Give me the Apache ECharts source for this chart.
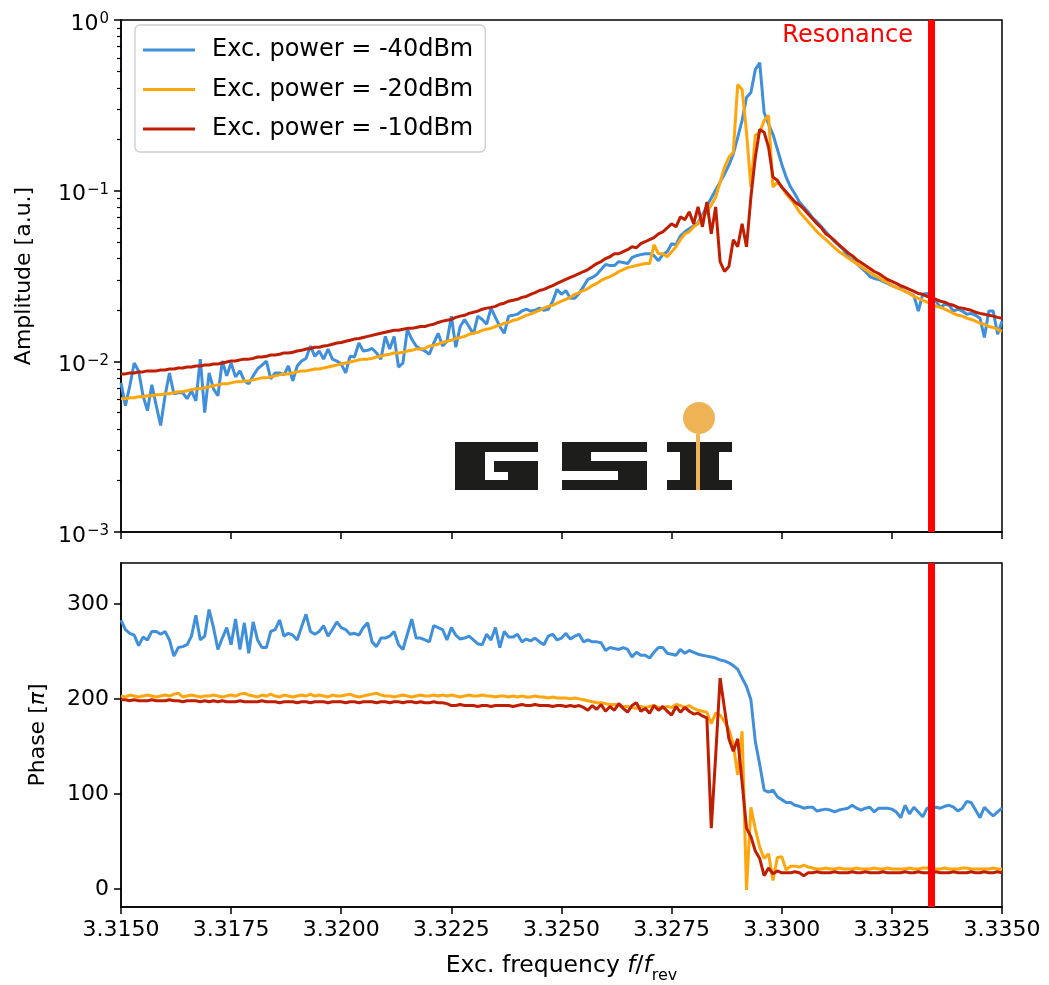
<!DOCTYPE html>
<html>
<head>
<meta charset="utf-8">
<script src="https://cdn.jsdelivr.net/npm/echarts@6/dist/echarts.min.js"></script>
<style>
html,body{margin:0;padding:0;background:#fff;}
#chart{width:1049px;height:985px;}
</style>
</head>
<body>
<div id="chart"></div>
<script>
// ---------------- data ----------------
const freqStart = 3.3150;
const freqStep = 0.0001;
const nPoints = 201;
const xTicks = [3.3150, 3.3175, 3.3200, 3.3225, 3.3250, 3.3275, 3.3300, 3.3325, 3.3350];
const ampTicks = [0.001, 0.01, 0.1, 1];
const ampMinorTicks = [0.002,0.003,0.004,0.005,0.006,0.007,0.008,0.009,
                       0.02,0.03,0.04,0.05,0.06,0.07,0.08,0.09,
                       0.2,0.3,0.4,0.5,0.6,0.7,0.8,0.9];
const phaseTicks = [0, 100, 200, 300];
const ampRange = [0.001, 1];
const phaseRange = [-19, 343];
const resonanceFreq = 3.3334;
const seriesNames = ['Exc. power = -40dBm', 'Exc. power = -20dBm', 'Exc. power = -10dBm'];

const ampBlue = [
0.00748,0.00550,0.00719,0.00977,0.00879,0.00629,0.00514,0.00728,0.00550,0.00421,
0.00629,0.00855,0.00646,0.00654,0.00654,0.00604,0.00672,0.00587,0.0103,0.00500,
0.00855,0.00690,0.00629,0.01004,0.00822,0.00977,0.00811,0.00879,0.00768,0.00738,
0.00822,0.00902,0.00951,0.01004,0.00789,0.00855,0.00855,0.00833,0.00939,0.00768,
0.00939,0.01004,0.0104,0.0123,0.0107,0.0115,0.0103,0.0118,0.0103,0.01004,
0.00964,0.00855,0.0107,0.0106,0.0128,0.0115,0.0116,0.0119,0.0112,0.0103,
0.0140,0.0118,0.0140,0.00926,0.00977,0.0154,0.0135,0.0123,0.0118,0.0115,
0.0110,0.0128,0.0146,0.0123,0.0131,0.0184,0.0121,0.0160,0.0176,0.0160,
0.0144,0.0184,0.0176,0.0165,0.0205,0.0181,0.0160,0.0146,0.0184,0.0186,
0.0189,0.0197,0.0202,0.0197,0.0199,0.0205,0.0199,0.0202,0.0225,0.0264,
0.0247,0.0260,0.0234,0.0234,0.0250,0.0275,0.0302,0.0310,0.0323,0.0345,
0.0369,0.0364,0.0364,0.0384,0.0379,0.0374,0.0405,0.0416,0.0422,0.0427,
0.0427,0.0416,0.0389,0.0422,0.0439,0.0489,0.0482,0.0544,0.0574,0.0598,
0.0623,0.0648,0.0722,0.0814,0.0906,0.1008,0.112,0.125,0.141,0.164,
0.205,0.258,0.352,0.376,0.512,0.562,0.287,0.245,0.214,0.175,
0.143,0.120,0.105,0.0956,0.0859,0.0803,0.0751,0.0693,0.0657,0.0614,
0.0574,0.0537,0.0502,0.0476,0.0451,0.0410,0.0394,0.0374,0.0354,0.0336,
0.0314,0.0306,0.0302,0.0294,0.0286,0.0278,0.0271,0.0267,0.0257,0.0250,
0.0243,0.0197,0.0247,0.0250,0.0237,0.0225,0.0207,0.0216,0.0213,0.0197,
0.0202,0.0197,0.0189,0.0191,0.0186,0.0179,0.0138,0.0197,0.0197,0.0144,0.0172];

const ampOrange = [
0.00604,0.00604,0.00612,0.00612,0.00620,0.00620,0.00629,0.00629,0.00637,0.00637,
0.00646,0.00646,0.00654,0.00663,0.00663,0.00672,0.00681,0.00690,0.00690,0.00700,
0.00709,0.00719,0.00728,0.00738,0.00738,0.00748,0.00758,0.00758,0.00768,0.00768,
0.00779,0.00789,0.00800,0.00800,0.00811,0.00822,0.00833,0.00844,0.00844,0.00855,
0.00867,0.00879,0.00879,0.00890,0.00902,0.00902,0.00914,0.00926,0.00939,0.00951,
0.00964,0.00977,0.00991,0.01004,0.0102,0.0103,0.0103,0.0104,0.0106,0.0107,
0.0109,0.0110,0.0112,0.0112,0.0113,0.0115,0.0116,0.0118,0.0118,0.0119,
0.0123,0.0124,0.0126,0.0129,0.0131,0.0133,0.0136,0.0138,0.0140,0.0144,
0.0146,0.0148,0.0152,0.0154,0.0156,0.0160,0.0163,0.0167,0.0169,0.0174,
0.0176,0.0181,0.0186,0.0189,0.0194,0.0199,0.0205,0.0210,0.0213,0.0219,
0.0225,0.0231,0.0237,0.0247,0.0253,0.0260,0.0267,0.0278,0.0286,0.0298,
0.0306,0.0314,0.0323,0.0336,0.0345,0.0354,0.0359,0.0364,0.0369,0.0374,
0.0374,0.0482,0.0427,0.0427,0.0410,0.0439,0.0469,0.0516,0.0559,0.0574,
0.0614,0.0640,0.0703,0.0751,0.0825,0.0918,0.112,0.137,0.157,0.168,
0.419,0.392,0.220,0.105,0.211,0.220,0.258,0.276,0.105,0.112,
0.105,0.0956,0.0894,0.0825,0.0751,0.0703,0.0657,0.0614,0.0574,0.0544,
0.0516,0.0489,0.0463,0.0439,0.0422,0.0405,0.0389,0.0374,0.0359,0.0345,
0.0331,0.0318,0.0310,0.0298,0.0290,0.0278,0.0271,0.0264,0.0257,0.0250,
0.0240,0.0234,0.0228,0.0222,0.0219,0.0210,0.0207,0.0202,0.0197,0.0191,
0.0186,0.0184,0.0179,0.0176,0.0172,0.0167,0.0165,0.0160,0.0158,0.0154,0.0150];

const ampRed = [
0.00844,0.00844,0.00855,0.00855,0.00867,0.00867,0.00879,0.00879,0.00879,0.00890,
0.00890,0.00902,0.00902,0.00914,0.00914,0.00926,0.00926,0.00939,0.00939,0.00951,
0.00951,0.00964,0.00964,0.00977,0.00991,0.01004,0.01004,0.0102,0.0103,0.0103,
0.0104,0.0106,0.0106,0.0107,0.0109,0.0109,0.0110,0.0112,0.0112,0.0113,
0.0115,0.0116,0.0118,0.0119,0.0121,0.0121,0.0123,0.0124,0.0126,0.0128,
0.0129,0.0131,0.0133,0.0135,0.0136,0.0138,0.0140,0.0142,0.0144,0.0146,
0.0148,0.0150,0.0152,0.0152,0.0154,0.0156,0.0156,0.0158,0.0160,0.0160,
0.0163,0.0165,0.0169,0.0172,0.0174,0.0176,0.0181,0.0184,0.0186,0.0191,
0.0194,0.0197,0.0202,0.0205,0.0207,0.0210,0.0216,0.0219,0.0225,0.0228,
0.0231,0.0237,0.0240,0.0247,0.0253,0.0260,0.0264,0.0271,0.0278,0.0286,
0.0294,0.0302,0.0310,0.0318,0.0327,0.0336,0.0345,0.0359,0.0374,0.0384,
0.0400,0.0410,0.0427,0.0427,0.0439,0.0451,0.0469,0.0463,0.0489,0.0502,
0.0516,0.0530,0.0559,0.0574,0.0606,0.0640,0.0614,0.0703,0.0675,0.0751,
0.0640,0.0803,0.0614,0.0859,0.0559,0.0803,0.0384,0.0336,0.0359,0.0516,
0.0469,0.0640,0.0469,0.0918,0.157,0.228,0.220,0.180,0.120,0.115,
0.105,0.0982,0.0918,0.0859,0.0825,0.0782,0.0731,0.0684,0.0640,0.0606,
0.0559,0.0537,0.0509,0.0482,0.0457,0.0433,0.0416,0.0394,0.0379,0.0364,
0.0350,0.0336,0.0327,0.0314,0.0302,0.0294,0.0286,0.0278,0.0271,0.0264,
0.0257,0.0250,0.0247,0.0240,0.0234,0.0231,0.0225,0.0222,0.0216,0.0213,
0.0207,0.0205,0.0202,0.0199,0.0194,0.0191,0.0189,0.0186,0.0184,0.0181,0.0179];

const phaseBlue = [
283,273,269,267,256,265,262,271,271,268,
271,262,245,254,255,257,266,288,262,266,
294,275,252,264,275,257,284,252,280,248,
281,262,254,254,271,273,283,266,269,267,
262,276,289,271,268,271,277,266,273,281,
275,273,268,269,267,275,280,260,255,264,
264,266,271,257,252,268,284,264,264,262,
260,277,275,273,262,275,267,263,264,266,
262,258,257,268,262,275,254,271,265,265,
268,260,263,261,264,260,257,266,268,262,
264,269,263,266,268,260,262,260,260,259,
251,254,253,252,254,252,244,249,246,246,
243,249,254,254,248,247,246,252,248,251,
249,247,246,245,244,243,241,240,238,235,
231,222,213,199,155,131,104,102,104,97,
94,91,91,88,87,85,86,86,82,83,
84,83,81,83,84,85,88,85,83,85,
86,81,85,85,85,84,81,75,88,79,
86,81,76,85,86,86,85,87,88,86,
82,85,92,91,83,75,86,81,77,81,85];

const phaseOrange = [
203,202,204,203,202,203,204,203,202,203,
204,203,205,206,202,203,204,203,202,203,
203,204,203,202,203,204,203,205,206,204,
203,202,204,203,205,203,202,204,203,202,
203,204,203,205,203,204,203,202,204,203,
203,204,205,203,202,203,204,205,206,204,
203,203,202,203,204,203,202,203,204,203,
203,204,203,204,203,204,203,202,203,204,
203,203,204,203,203,202,203,203,202,203,
202,203,202,202,203,202,202,201,202,201,
201,201,200,201,200,199,198,197,196,196,
195,194,194,193,192,192,191,190,192,191,
192,193,191,190,192,191,194,193,191,193,
190,188,187,186,174,185,183,176,168,152,
120,166,-1,86,63,44,32,37,9,33,
34,20,24,24,23,25,23,22,21,21,
22,21,21,22,21,21,21,22,21,21,
21,22,21,21,22,21,21,21,21,22,
21,21,22,22,21,21,21,22,21,21,
21,22,22,21,21,21,21,21,22,21,21];

const phaseRed = [
199,199,198,199,198,198,198,199,198,198,
198,199,198,198,197,198,198,198,197,198,
197,198,197,198,197,197,197,198,197,197,
197,197,198,197,197,197,196,197,197,197,
196,197,197,196,197,197,197,196,197,197,
197,196,197,197,196,197,197,197,196,197,
197,196,197,197,196,197,197,196,197,196,
196,197,196,196,195,193,193,194,193,193,
193,192,193,193,192,193,193,193,193,192,
193,194,193,193,194,193,193,193,192,193,
193,192,193,192,193,191,188,193,189,194,
187,192,188,195,190,186,193,196,187,190,
185,193,188,192,187,183,192,186,191,187,
184,185,182,180,64,140,222,190,158,145,
158,112,64,55,40,32,14,22,16,19,
17,17,17,18,17,14,17,17,18,17,
17,17,18,17,17,17,18,17,17,18,
17,17,17,18,17,17,17,17,18,17,
17,18,17,17,17,18,17,17,17,18,
17,17,17,18,17,17,18,17,17,18,17];

// ---------------- build ----------------
const freq = Array.from({length: nPoints}, (_, i) => +(freqStart + i * freqStep).toFixed(4));
const toPairs = ys => ys.map((y, i) => [freq[i], y]);

const FONT = 'DejaVu Sans';
const COLORS = ['#3f8fdb', '#ffa60d', '#c01e00'];
const RES_COLOR = '#ff0000';

const chart = echarts.init(document.getElementById('chart'), null, {renderer: 'canvas'});

const lineSeries = (name, data, color, xi, yi, z) => ({
  name, type: 'line', data: toPairs(data), xAxisIndex: xi, yAxisIndex: yi,
  symbol: 'none', showSymbol: false, smooth: false, z,
  lineStyle: {color, width: 3}, itemStyle: {color}, emphasis: {disabled: true}
});

// vertical resonance marker drawn as a two-point line through the axis scales
const resonanceSeries = (xi, yi, range) => ({
  type: 'line', xAxisIndex: xi, yAxisIndex: yi, z: 10, silent: true,
  symbol: 'none', showSymbol: false,
  data: [[resonanceFreq, range[0]], [resonanceFreq, range[1]]],
  lineStyle: {color: RES_COLOR, width: 7}, itemStyle: {color: RES_COLOR},
  emphasis: {disabled: true}
});

const logLabel = v => {
  const e = Math.round(Math.log10(v));
  return '{b|10}{s|' + (e < 0 ? '\u2212' + (-e) : String(e)) + '}';
};

const tickStyle = {color: '#000', width: 1.5};

const option = {
  animation: false,
  backgroundColor: '#fff',
  textStyle: {fontFamily: FONT},
  title: {
    text: 'Resonance', right: 136, top: 24, padding: 0,
    textStyle: {color: RES_COLOR, fontSize: 24, fontWeight: 'normal', fontFamily: FONT}
  },
  legend: {
    data: seriesNames, orient: 'vertical', left: 135, top: 25,
    icon: 'rect', itemWidth: 52, itemHeight: 3, itemGap: 13.5,
    padding: [12, 12, 10, 8],
    borderColor: '#cccccc', borderWidth: 1.3, borderRadius: 5, backgroundColor: '#ffffff',
    textStyle: {fontSize: 24, color: '#000', fontFamily: FONT, lineHeight: 26, padding: [0, 0, 0, 12]},
    selectedMode: false
  },
  grid: [
    {left: 121, right: 47, top: 20, height: 512, outerBoundsMode: 'none', containLabel: false,
     show: true, borderColor: '#000', borderWidth: 1.5, backgroundColor: 'transparent'},
    {left: 121, right: 47, top: 563, height: 344, outerBoundsMode: 'none', containLabel: false,
     show: true, borderColor: '#000', borderWidth: 1.5, backgroundColor: 'transparent'}
  ],
  xAxis: [
    {
      gridIndex: 0, type: 'value', min: 3.315, max: 3.335,
      axisLine: {show: true, onZero: false, lineStyle: tickStyle},
      axisTick: {show: true, customValues: xTicks, length: 7, lineStyle: tickStyle},
      axisLabel: {show: false}, splitLine: {show: false}
    },
    {
      gridIndex: 1, type: 'value', min: 3.315, max: 3.335,
      axisLine: {show: true, onZero: false, lineStyle: tickStyle},
      axisTick: {show: true, customValues: xTicks, length: 7, lineStyle: tickStyle},
      axisLabel: {show: true, customValues: xTicks, formatter: v => v.toFixed(4), fontSize: 22, color: '#000', fontFamily: FONT, margin: 12},
      splitLine: {show: false},
      name: '{n|Exc. frequency }{i|f}{n|/}{i|f}{s|rev}',
      nameLocation: 'middle', nameGap: 47,
      nameTextStyle: {
        color: '#000', fontSize: 23.5, fontFamily: FONT,
        rich: {
          n: {fontSize: 23.5, fontFamily: FONT, color: '#000', lineHeight: 30, verticalAlign: 'top'},
          i: {fontSize: 23.5, fontFamily: FONT, color: '#000', fontStyle: 'italic', lineHeight: 30, verticalAlign: 'top'},
          s: {fontSize: 16, fontFamily: FONT, color: '#000', lineHeight: 18, verticalAlign: 'bottom'}
        }
      }
    }
  ],
  yAxis: [
    {
      gridIndex: 0, type: 'log', logBase: 10, min: ampRange[0], max: ampRange[1], position: 'left',
      axisLine: {show: true, lineStyle: tickStyle},
      axisTick: {show: true, customValues: ampTicks, length: 7, lineStyle: tickStyle},
      axisLabel: {
        show: true, customValues: ampTicks, formatter: logLabel, margin: 12, color: '#000',
        rich: {
          b: {fontSize: 22, fontFamily: FONT, color: '#000', lineHeight: 30, verticalAlign: 'bottom'},
          s: {fontSize: 15, fontFamily: FONT, color: '#000', verticalAlign: 'top', padding: [7, 0, 0, 1]}
        }
      },
      splitLine: {show: false},
      name: 'Amplitude [a.u.]', nameLocation: 'middle', nameGap: 86, nameRotate: 90,
      nameTextStyle: {color: '#000', fontSize: 22, fontFamily: FONT}
    },
    {
      gridIndex: 0, type: 'log', logBase: 10, min: ampRange[0], max: ampRange[1], position: 'left', offset: 0,
      axisLine: {show: false},
      axisTick: {show: true, customValues: ampMinorTicks, length: 4, lineStyle: {color: '#000', width: 1.2}},
      axisLabel: {show: false}, splitLine: {show: false}
    },
    {
      gridIndex: 1, type: 'value', min: phaseRange[0], max: phaseRange[1], position: 'left',
      axisLine: {show: true, onZero: false, lineStyle: tickStyle},
      axisTick: {show: true, customValues: phaseTicks, length: 7, lineStyle: tickStyle},
      axisLabel: {show: true, customValues: phaseTicks, fontSize: 22, color: '#000', fontFamily: FONT, margin: 12},
      splitLine: {show: false},
      name: '{n|Phase [}{i|\u03c0}{n|]}', nameLocation: 'middle', nameGap: 72, nameRotate: 90,
      nameTextStyle: {
        color: '#000', fontSize: 22, fontFamily: FONT,
        rich: {
          n: {fontSize: 22, fontFamily: FONT, color: '#000'},
          i: {fontSize: 22, fontFamily: FONT, color: '#000', fontStyle: 'italic'}
        }
      }
    }
  ],
  series: [
    lineSeries(seriesNames[0], ampBlue, COLORS[0], 0, 0, 2),
    lineSeries(seriesNames[1], ampOrange, COLORS[1], 0, 0, 3),
    lineSeries(seriesNames[2], ampRed, COLORS[2], 0, 0, 4),
    resonanceSeries(0, 0, ampRange),
    lineSeries(seriesNames[0], phaseBlue, COLORS[0], 1, 2, 2),
    lineSeries(seriesNames[1], phaseOrange, COLORS[1], 1, 2, 3),
    lineSeries(seriesNames[2], phaseRed, COLORS[2], 1, 2, 4),
    resonanceSeries(1, 2, phaseRange)
  ],
  graphic: [
    {
      type: 'group', left: 455, top: 402, z: 1, silent: true,
      children: [
        // G
        {type: 'rect', shape: {x: 0, y: 40, width: 83, height: 48}, style: {fill: '#1d1d1b'}},
        {type: 'rect', shape: {x: 30, y: 50, width: 53, height: 9}, style: {fill: '#fff'}},
        {type: 'rect', shape: {x: 30, y: 50, width: 9, height: 28}, style: {fill: '#fff'}},
        {type: 'rect', shape: {x: 39, y: 70, width: 14, height: 8}, style: {fill: '#fff'}},
        // S
        {type: 'rect', shape: {x: 107, y: 40, width: 85, height: 48}, style: {fill: '#1d1d1b'}},
        {type: 'rect', shape: {x: 136, y: 50, width: 56, height: 9}, style: {fill: '#fff'}},
        {type: 'rect', shape: {x: 107, y: 69, width: 56, height: 9}, style: {fill: '#fff'}},
        // I
        {type: 'rect', shape: {x: 212, y: 40, width: 65, height: 48}, style: {fill: '#1d1d1b'}},
        {type: 'rect', shape: {x: 212, y: 50, width: 13, height: 28}, style: {fill: '#fff'}},
        {type: 'rect', shape: {x: 264, y: 50, width: 13, height: 28}, style: {fill: '#fff'}},
        {type: 'rect', shape: {x: 241, y: 32, width: 4, height: 56}, style: {fill: '#eeb355'}},
        {type: 'circle', shape: {cx: 244, cy: 16, r: 16}, style: {fill: '#eeb355'}}
      ]
    }
  ]
};

chart.setOption(option);
</script>
</body>
</html>
